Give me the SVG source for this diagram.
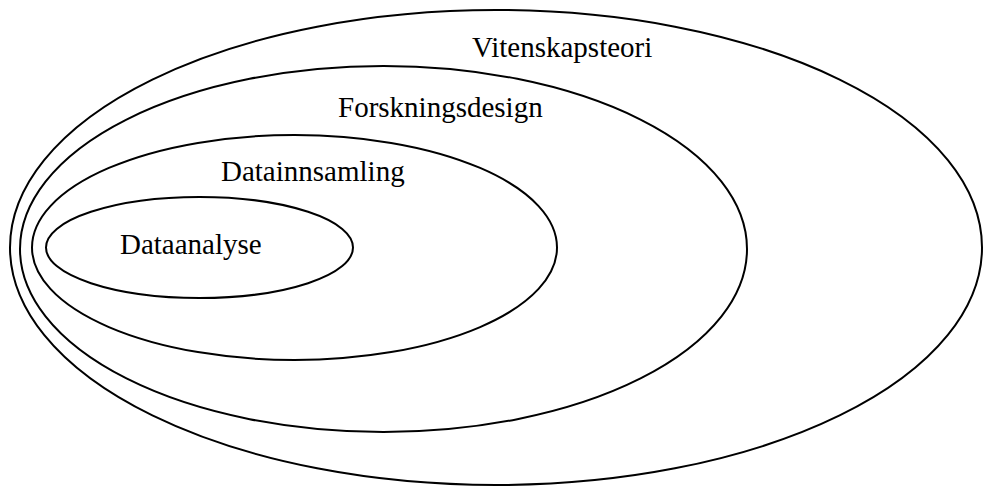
<svg xmlns="http://www.w3.org/2000/svg" width="984" height="486" viewBox="0 0 984 486">
<style>
.e{fill:none;stroke:#000;stroke-width:2}
.t{font-family:"Liberation Serif","Times New Roman",serif;font-size:29px;fill:#000}
</style>
<rect width="984" height="486" fill="#fff"/>
<g id="vitenskapsteori">
<ellipse class="e" cx="496" cy="247.5" rx="486" ry="237.5"/>
<text class="t" x="472" y="57">Vitenskapsteori</text>
</g>
<g id="forskningsdesign">
<ellipse class="e" cx="383.5" cy="249" rx="363.5" ry="183"/>
<text class="t" x="338" y="117">Forskningsdesign</text>
</g>
<g id="datainnsamling">
<ellipse class="e" cx="294.5" cy="247.5" rx="262.5" ry="112.5"/>
<text class="t" x="221" y="181">Datainnsamling</text>
</g>
<g id="dataanalyse">
<ellipse class="e" cx="199.5" cy="247.5" rx="153.5" ry="50.5"/>
<text class="t" x="120" y="254">Dataanalyse</text>
</g>
<g id="connectors"></g>
</svg>
